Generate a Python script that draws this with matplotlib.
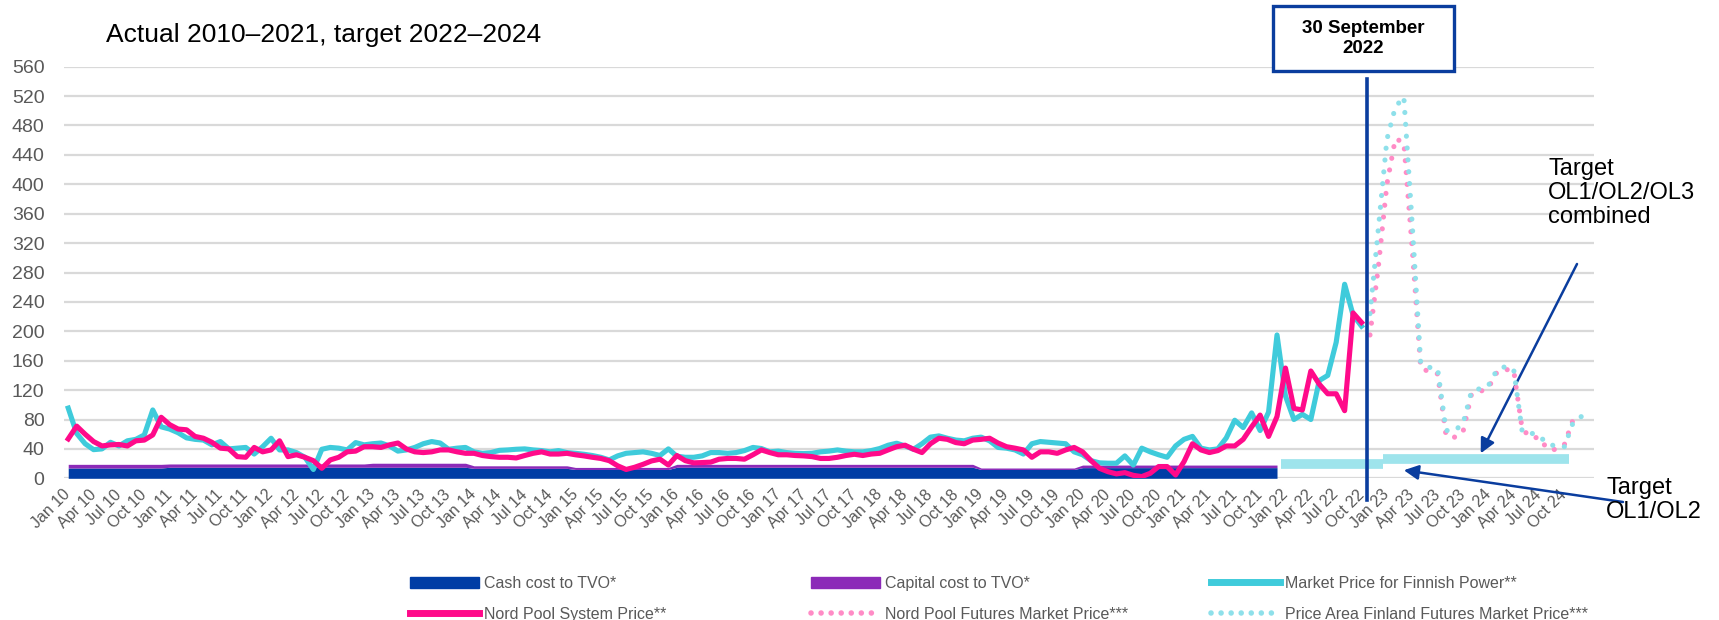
import matplotlib.pyplot as plt
import numpy as np
from matplotlib.lines import Line2D
from matplotlib.patches import Patch, Rectangle

plt.rcParams['font.family'] = ['Liberation Sans', 'DejaVu Sans']

# month index 0 = Jan 10
cash_cost = [14.0, 15.0, 15.0, 15.0, 13.5, 12.0, 15.0, 15.0, 15.0, 12.0, 14.5, 14.5]   # per year 2010-2021
capital_cost = [5.0, 4.5, 4.5, 5.5, 3.5, 2.8, 4.0, 4.0, 4.0, 2.0, 3.5, 3.5]

finland_price = [
    95.5, 61, 47, 39, 40, 49, 44, 51, 53, 59, 93, 70,
    67, 62, 55, 53, 52, 45.5, 50, 40, 41, 42, 33, 43,
    54.5, 38.6, 38.6, 35, 28.6, 12, 39.5, 42, 41, 38.6, 48.6, 45.5,
    47, 48, 44, 37, 38.6, 42, 47, 50, 48, 39.5, 41, 42,
    36, 34, 35, 38, 38.6, 39.5, 40, 38.6, 37.7, 36, 37.7, 35,
    34, 32.7, 31, 28.6, 25, 30.5, 34, 35, 36, 34, 31, 40,
    30, 28.6, 28.6, 30.5, 35, 35, 34, 35, 37.7, 42, 40.5, 36,
    37, 35, 34, 33.6, 34, 36, 37, 38.6, 37, 36, 36, 37.7,
    40.5, 45, 47.7, 44, 39.5, 47, 56, 57.7, 54.5, 52, 51, 54.5,
    56, 51, 42, 41, 38.6, 33, 47, 50, 49, 48, 47, 36,
    32, 24, 21, 20.5, 20.5, 30.5, 18, 41, 36, 32, 28.6, 44,
    53, 57, 41, 38.6, 40, 55, 79, 69, 89, 65, 90, 195,
    112, 80, 87, 80, 133, 140, 185, 264, 222, 207,
]

nordpool_price = [
    53.6, 71, 60, 50, 44, 45.5, 46, 44, 51, 52, 59, 83,
    73, 67, 66, 57, 54.5, 49, 41, 40, 29.5, 28.6, 42, 36,
    38.6, 51, 29.5, 32, 28.6, 24, 13.6, 25, 28.6, 36, 37, 43,
    43, 42, 45.5, 48, 40, 36, 35, 36, 38.6, 38.6, 36, 34,
    34, 31, 29.5, 28.6, 28.6, 27.7, 31, 34, 36, 33, 33, 34,
    32, 30.5, 28.6, 27, 24, 17, 12, 15, 19, 23.6, 26, 18,
    31, 24, 21, 21.4, 22, 26, 27, 27, 26, 32, 38.6, 35,
    32, 32, 31, 30.5, 29.5, 27, 27, 28.6, 31, 32.7, 31, 33,
    34, 38.6, 43, 45, 39.5, 35, 47, 54.5, 53, 48.6, 47, 52,
    53, 54.5, 48, 43, 41, 38.6, 28.6, 36, 36, 34, 38.6, 42,
    36, 24, 13.6, 9, 6, 7.7, 4, 2.3, 6.8, 16, 16, 4.5,
    22.7, 47, 38.6, 35, 37.7, 44, 44, 53, 70, 86, 57, 84,
    150, 95, 93, 146, 128, 115, 115, 92, 225, 212,
]

futures_start = 154
finland_futures = [224, 341, 461, 505, 519, 345, 157, 151, 149, 65, 65, 74, 118, 122,
                   126, 147, 152, 148, 64, 62, 57, 48, 43, 43, 75, 84, 83]
nordpool_futures = [195, 289, 400, 462, 457, 312, 150, 145, 142, 58, 56, 63, 114, 118,
                    123, 144, 148, 147, 67, 56, 55, 40, 39, 46, 79, 79]

target_ol12 = 19.5          # months 144-155
target_ol123 = 26.0         # months 156-177
target_ol12_months = (144, 155)
target_ol123_months = (156, 177)
cutoff_month = 153.6        # 30 September 2022

tick_years = list(range(10, 25))
tick_months = ['Jan', 'Apr', 'Jul', 'Oct']
tick_labels = [f'{m} {y}' for y in tick_years for m in tick_months]

c_cash = '#003DA5'
c_cap = '#8C2AB8'
c_fin = '#3FCBDB'
c_np = '#FF0A8A'
c_npf = '#FF8CC6'
c_finf = '#8EE0EA'
c_target = '#9EE4EC'
c_dark = '#0A3D9E'
c_grey = '#595959'

fig = plt.figure(figsize=(17.19, 6.2), dpi=100)
ax = fig.add_axes([64 / 1719, (620 - 478.3) / 620, 1530 / 1719, 411.6 / 620])

x_cost = np.arange(len(cash_cost) * 12)
cash_m = np.repeat(cash_cost, 12)
cap_m = np.repeat(capital_cost, 12)
ax.fill_between(x_cost, 0, cash_m, color=c_cash, lw=0, zorder=2)
ax.fill_between(x_cost, cash_m, cash_m + cap_m, color=c_cap, lw=0, zorder=2)

ax.hlines(target_ol12, target_ol12_months[0] - 0.5, target_ol12_months[1] + 0.5,
          color=c_target, lw=7, zorder=2)
ax.hlines(target_ol123, target_ol123_months[0] - 0.5, target_ol123_months[1] + 0.5,
          color=c_target, lw=7, zorder=2)

x_act = np.arange(len(finland_price))
ax.plot(x_act, finland_price, color=c_fin, lw=3.7, zorder=3, solid_joinstyle='round')
ax.plot(x_act, nordpool_price, color=c_np, lw=3.7, zorder=4, solid_joinstyle='round')

dot = (0, (0.01, 2.3))
ax.plot(futures_start + np.arange(len(nordpool_futures)), nordpool_futures, color=c_npf,
        lw=3.7, ls=dot, dash_capstyle='round', zorder=5)
ax.plot(futures_start + np.arange(len(finland_futures)), finland_futures, color=c_finf,
        lw=3.7, ls=dot, dash_capstyle='round', zorder=6)

ax.axvline(cutoff_month, ymin=-0.053, ymax=0.97, color=c_dark, lw=2.6, zorder=7, clip_on=False)

ax.set_xlim(-0.5, 180.5)
ax.set_ylim(0, 560)
ax.set_yticks(np.arange(0, 561, 40))
ax.set_xticks(np.arange(0, len(tick_labels) * 3, 3))
ax.set_xticklabels(tick_labels, rotation=45, ha='right', va='center', rotation_mode='anchor')
ax.tick_params(axis='y', length=0, pad=14, labelsize=14, labelcolor=c_grey)
ax.tick_params(axis='x', length=0, pad=10, labelsize=11.5, labelcolor=c_grey)
ax.yaxis.grid(True, color='#D9D9D9', lw=1.6)
ax.set_axisbelow(True)
for s in ax.spines.values():
    s.set_visible(False)

fig.text(106 / 1719, 1 - 35 / 620, 'Actual 2010\u20132021, target 2022\u20132024',
         fontsize=19, va='center', ha='left', color='black')

# cutoff box
fig.patches.append(Rectangle((1273 / 1719, 1 - 71 / 620), 181 / 1719, 65 / 620,
                             transform=fig.transFigure, fc='white', ec=c_dark, lw=2.4))
fig.text(1363 / 1719, 1 - 38.5 / 620, '30 September\n2022', fontsize=13.5,
         fontweight='bold', ha='center', va='center', linespacing=1.2)

fig.text(1548 / 1719, 1 - 193 / 620, 'Target\nOL1/OL2/OL3\ncombined', fontsize=17,
         ha='left', va='center', linespacing=1.12)
fig.text(1606 / 1719, 1 - 500 / 620, 'Target\nOL1/OL2', fontsize=17,
         ha='left', va='center', linespacing=1.12)

arrow = dict(arrowstyle='-|>', color=c_dark, lw=1.8, mutation_scale=22, shrinkA=0, shrinkB=0)
ax.annotate('', xy=(167.1, 34), xycoords='data', xytext=(1577 / 1719, 1 - 264 / 620),
            textcoords='figure fraction', arrowprops=arrow, annotation_clip=False)
ax.annotate('', xy=(158, 11), xycoords='data', xytext=(1623 / 1719, 1 - 502 / 620),
            textcoords='figure fraction', arrowprops=arrow, annotation_clip=False)

# legend, three columns
leg_dot = (0, (0.01, 1.8))
cols = [
    ([Patch(color=c_cash), Line2D([], [], color=c_np, lw=5)],
     ['Cash cost to TVO*', 'Nord Pool System Price**'], 410),
    ([Patch(color=c_cap), Line2D([], [], color=c_npf, lw=4, ls=leg_dot, dash_capstyle='round')],
     ['Capital cost to TVO*', 'Nord Pool Futures Market Price***'], 811),
    ([Line2D([], [], color=c_fin, lw=5), Line2D([], [], color=c_finf, lw=4, ls=leg_dot, dash_capstyle='round')],
     ['Market Price for Finnish Power**', 'Price Area Finland Futures Market Price***'], 1211),
]
for handles, labels, x0 in cols:
    fig.legend(handles, labels, loc='upper left', bbox_to_anchor=(x0 / 1719, 1 - 576 / 620),
               frameon=False, borderpad=0, borderaxespad=0, handlelength=4.3,
               handletextpad=0.35, labelspacing=1.0, fontsize=11.5, labelcolor=c_grey)

fig.savefig('out.png', dpi=100)
